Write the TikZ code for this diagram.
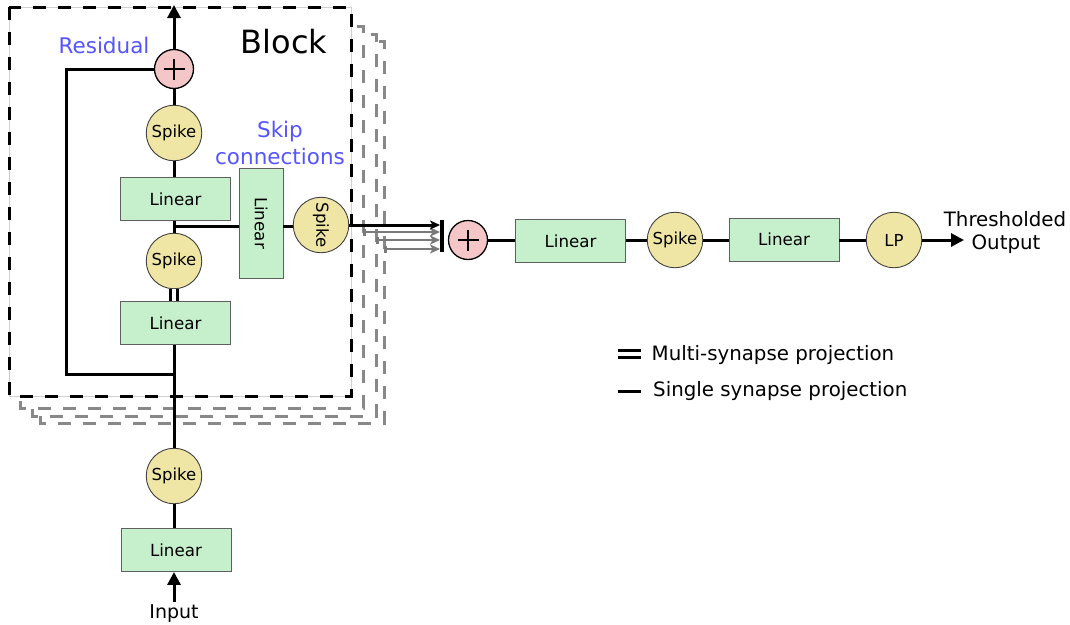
\documentclass[tikz,border=0pt]{standalone}
\usepackage{fontspec}
\setmainfont{DejaVu Sans}
\usepackage{graphicx}
\usetikzlibrary{arrows.meta}
\definecolor{lingreen}{RGB}{198,240,204}
\definecolor{spikeyel}{RGB}{239,230,166}
\definecolor{pluspink}{RGB}{244,198,200}
\definecolor{lblblue}{RGB}{85,85,255}
\definecolor{bordgray}{RGB}{95,95,95}
\definecolor{shadgray}{RGB}{136,136,136}
\begin{document}
\begin{tikzpicture}[x=1pt,y=-1pt,
  linbox/.style={draw=bordgray, line width=0.9pt, fill=lingreen, minimum width=110pt, minimum height=43pt, inner sep=0pt, font=\fontsize{16.7}{20}\selectfont},
  spk/.style={circle, draw=black!75, line width=0.9pt, fill=spikeyel, minimum size=55.5pt, inner sep=0pt, font=\fontsize{16.5}{20}\selectfont},
  plusnode/.style={circle, draw=black, line width=1.3pt, fill=pluspink, minimum size=39pt, inner sep=0pt,
    path picture={\draw[line width=2.3pt] ([xshift=-10.5pt]path picture bounding box.center) -- ([xshift=10.5pt]path picture bounding box.center)
      ([yshift=-10.5pt]path picture bounding box.center) -- ([yshift=10.5pt]path picture bounding box.center);}},
  conn/.style={line width=3pt},
  multi/.style={line width=3pt, double distance=4pt},
  shad/.style={draw=shadgray, line width=3pt, dash pattern=on 13pt off 12pt, fill=white},
  blocklbl/.style={text=lblblue, font=\fontsize{21.5}{26}\selectfont, inner sep=0pt, anchor=base},
  txt/.style={font=\fontsize{19.8}{23}\selectfont, inner sep=0pt, anchor=base},
  bigtip/.style={-{Triangle[length=13pt,width=13pt]}},
  smalltip/.style={-{Stealth[length=10pt,width=9pt,inset=2.5pt]}},
  greyarrow/.style={draw=shadgray!90!black, line width=2.5pt, {Bar[width=7pt]}-{Stealth[length=10pt,width=9pt,inset=2.5pt]}}
]
\useasboundingbox (0,0) rectangle (1070,624);

% stacked block copies
\draw[shad] (40,41) rectangle (384,423);
\draw[shad] (32,34) rectangle (376,416);
\draw[shad] (20,26) rectangle (363,408);
\draw[fill=white, draw=black!18, line width=0.8pt] (9,7) rectangle (351,396);
\draw[line width=3pt, dash pattern=on 13pt off 12pt] (9,7) rectangle (351,396);

% labels
\node[blocklbl] (resid) at (104,53) {Residual};
\node[blocklbl, text=black, font=\fontsize{32}{38}\selectfont] (blk) at (284,53) {Block};
\node[blocklbl] (skip1) at (280,137) {Skip};
\node[blocklbl] (skip2) at (280,164) {connections};

% block column
\node[plusnode] (p1) at (174,69) {};
\node[spk] (s1) at (174,133) {Spike};
\node[linbox] (l1) at (175.5,199) {Linear};
\node[spk] (s2) at (174,261) {Spike};
\node[linbox] (l2) at (175.5,323) {Linear};
\node[linbox, minimum width=44pt, minimum height=110pt] (lv) at (261,223) {\rotatebox{-90}{Linear}};
\node[spk] (sv) at (321,225) {\rotatebox{-90}{Spike}};

% input column
\node[spk] (s3) at (174,476) {Spike};
\node[linbox] (l3) at (176,550) {Linear};
\node[txt, font=\fontsize{19}{23}\selectfont] (inp) at (174,618) {Input};

% merge bar and head
\node[fill=black, minimum width=3.5pt, minimum height=32pt, inner sep=0pt] (bar) at (442,236) {};
\node[plusnode] (p2) at (468,240) {};
\node[linbox] (l4) at (570.5,241) {Linear};
\node[spk] (s4) at (675,240) {Spike};
\node[linbox] (l5) at (784,239.5) {Linear};
\node[spk] (lp) at (894,240) {LP};
\node[txt] (out1) at (1005,226) {Thresholded};
\node[txt] (out2) at (1006,249) {Output};

% coordinates
\coordinate (top) at (174,5);
\coordinate (rl) at (66,374);
\coordinate (rj) at (174,374);
\coordinate (j1) at (174,226);
\coordinate (g1) at (363,232);
\coordinate (g2) at (376,240);
\coordinate (g3) at (384,249);
\coordinate (oend) at (964,240);

% connectors in block
\draw[conn, bigtip] (p1) -- (top);
\draw[conn] (p1.south) -- (s1.north);
\draw[conn] (s1.south) -- (s1.south |- l1.north);
\draw[conn] (s1.south |- l1.south) -- (s2.north);
\draw[multi] (s2.south) -- (s2.south |- l2.north);
\draw[conn] (s1.south |- l2.south) -- (s3.north);
\draw[conn] (p1.west) -| (rl) -- (rj);
\draw[conn] (j1) -- (j1 -| lv.west);
\draw[conn] (lv.east |- j1) -- (sv.west |- j1);
\draw[conn] (s3.south) -- (s3.south |- l3.north);
\draw[conn, bigtip] (inp.north) ++(0,-2) coordinate (inpt) (inpt) -- (inpt |- l3.south);

% skip arrows
\draw[greyarrow] (g3) -- (g3 -| bar.west);
\draw[greyarrow] (g2) -- (g2 -| bar.west);
\draw[greyarrow] (g1) -- (g1 -| bar.west);
\draw[conn, smalltip] (sv.east) -- (sv.east -| bar.west);

% head chain
\draw[conn] (p2.east) -- (p2.east -| l4.west);
\draw[conn] (l4.east |- s4) -- (s4.west);
\draw[conn] (s4.east) -- (s4.east -| l5.west);
\draw[conn] (l5.east |- lp) -- (lp.west);
\draw[conn, bigtip] (lp.east) -- (oend);

% legend
\coordinate (m1) at (618,354);
\coordinate (m2) at (641,354);
\coordinate (n1) at (618,391.5);
\coordinate (n2) at (641,391.5);
\draw[multi] (m1) -- (m2);
\draw[conn] (n1) -- (n2);
\node[txt, anchor=base west] (mt) at (651.5,360) {Multi-synapse projection};
\node[txt, anchor=base west] (st) at (653,396) {Single synapse projection};
\end{tikzpicture}
\end{document}
